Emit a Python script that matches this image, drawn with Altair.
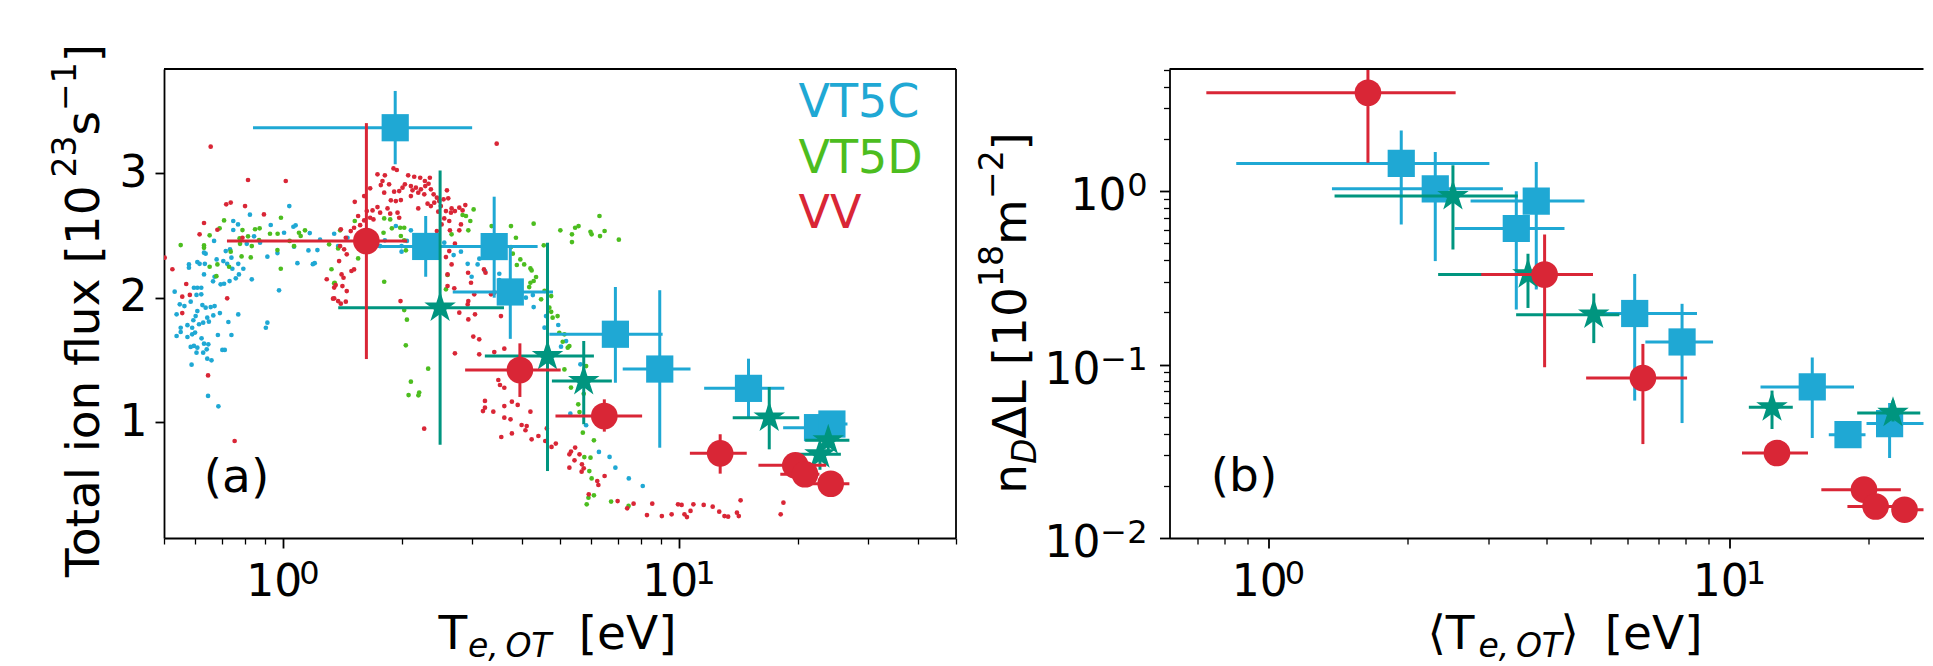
import math
import altair as alt
import pandas as pd

FONT = "DejaVu Sans"
BLUE = "#1fa8d4"
GREEN = "#4cbd1f"
TEAL = "#00957f"
RED = "#d92636"

# ---------------- Panel (a): time-resolved points (T_e,OT , total ion flux) ----------------
blue_T = [0.748, 0.769, 0.824, 0.748, 0.930, 1.036, 1.061, 1.075, 1.005, 1.167, 1.239, 1.345, 0.874, 0.809,
          0.844, 0.669, 1.065, 1.158, 0.967, 1.086, 1.201, 1.188, 0.912, 0.637, 0.716, 0.734, 0.740, 0.706,
          0.679, 0.722, 0.744, 0.770, 0.793, 0.773, 0.759, 0.732, 0.695, 0.665, 0.631, 0.634, 0.615, 0.578,
          0.578, 0.607, 0.631, 0.671, 0.833, 0.709, 0.532, 0.595, 0.607, 0.621, 0.604, 0.621, 0.584, 0.563,
          0.548, 0.625, 0.637, 0.656, 0.671, 0.607, 0.601, 0.593, 0.613, 0.643, 0.666, 0.692, 0.538, 0.573,
          0.589, 0.551, 0.649, 0.628, 0.727, 0.770, 0.976, 1.220, 0.912, 0.904,
          0.538, 0.573, 0.589, 0.599, 0.551, 0.622, 0.584, 0.595, 0.607, 0.604, 0.631, 0.647, 0.641, 0.628,
          0.684, 0.740, 0.702, 0.712, 0.643, 0.659, 0.587, 0.646, 0.686,
          1.453, 1.925, 2.101, 1.806, 1.99, 1.99, 2.053, 2.551, 2.694, 2.811, 3.128, 3.097, 2.923, 2.991,
          3.232, 3.513, 3.513, 1.757, 1.376,
          4.10, 4.29, 4.27, 4.61, 4.57, 4.95, 5.18, 5.03, 5.63, 5.31, 5.82, 6.27, 6.67, 6.90, 7.46, 8.09]
blue_F = [2.615, 2.588, 2.666, 2.543, 2.583, 2.735, 2.569, 2.580, 2.521, 2.518, 2.465, 2.513, 2.441, 2.432,
          2.492, 2.455, 2.409, 2.379, 2.358, 2.277, 2.277, 2.269, 2.329, 2.353, 2.374, 2.388, 2.321, 2.294,
          2.307, 2.272, 2.232, 2.272, 2.232, 2.187, 2.155, 2.133, 2.107, 2.131, 2.187, 2.272, 2.272, 2.267,
          2.240, 2.286, 2.361, 2.168, 2.147, 2.112, 2.048, 2.080, 2.080, 2.080, 2.022, 2.027, 1.968, 1.933,
          1.947, 1.941, 1.920, 1.925, 1.933, 1.893, 1.853, 1.819, 1.787, 1.840, 1.858, 1.877, 1.867, 1.780,
          1.759, 1.759, 1.808, 1.800, 1.805, 1.866, 2.059, 2.382, 1.800, 1.759,
          1.693, 1.685, 1.706, 1.720, 1.725, 1.674, 1.605, 1.613, 1.599, 1.559, 1.631, 1.626, 1.586, 1.559,
          1.701, 1.701, 1.581, 1.581, 1.511, 1.498, 1.463, 1.212, 1.129,
          2.481, 2.575, 2.540, 2.460, 2.414, 2.369, 2.455, 2.441, 2.342, 2.369, 2.313, 2.267, 2.272, 2.168,
          2.214, 2.192, 2.141, 2.414, 2.414,
          2.000, 1.925, 2.021, 1.853, 1.760, 1.781, 1.652, 1.607, 1.466, 1.070, 0.977, 0.763, 0.723, 0.637,
          0.551, 0.490]

green_T = [0.551, 0.631, 0.631, 0.652, 0.691, 0.709, 0.789, 0.776, 0.778, 0.815, 0.849, 0.872, 0.869, 0.833,
           0.926, 0.968, 0.987, 1.096, 1.135, 1.107, 1.038, 1.065, 0.967, 0.737, 0.785, 0.828, 0.682, 0.652,
           0.730, 0.678, 0.986, 1.306, 1.324, 1.345,
           1.516, 1.392, 1.799, 1.863, 1.881, 1.974, 2.021, 1.792, 1.982, 2.021, 2.041, 2.662, 2.838, 2.894,
           2.968, 3.026, 2.934, 3.36, 1.376, 1.546, 1.349, 1.799, 2.60, 2.576, 2.021, 2.053,
           2.040, 2.323, 2.101, 2.073, 2.205, 2.195,
           3.76, 4.29, 5.01, 5.36, 5.46, 5.57, 5.36, 5.97, 6.01, 6.29, 6.31, 6.48, 7.04, 3.87, 3.76, 3.80,
           4.55, 3.89, 3.97, 4.06, 4.21, 4.24, 4.35, 4.29, 4.21, 4.18, 4.57, 4.75, 4.48, 4.70, 4.75, 4.79,
           4.93, 4.98, 5.13, 5.08, 5.28, 5.23, 5.33, 5.56, 5.60, 5.82, 5.74, 5.71, 6.09, 5.76, 5.97, 5.93,
           6.01, 6.09, 5.90, 5.84, 6.73, 7.45, 5.13]
green_F = [2.422, 2.419, 2.400, 2.500, 2.556, 2.620, 2.542, 2.475, 2.432, 2.492, 2.549, 2.556, 2.462, 2.414,
           2.513, 2.513, 2.641, 2.521, 2.540, 2.495, 2.455, 2.414, 2.382, 2.369, 2.331, 2.323, 2.267, 2.248,
           2.248, 2.173, 2.232, 2.428, 2.228, 2.115,
           2.615, 2.540, 2.636, 2.628, 2.556, 2.561, 2.561, 2.521, 2.495, 2.460, 2.380, 2.508, 2.663, 2.655,
           2.615, 2.708, 2.540, 2.574, 2.395, 2.315, 2.120, 2.128, 2.182, 2.067, 1.901, 1.824,
           1.618, 1.431, 1.327, 1.219, 1.239, 1.217,
           2.574, 2.594, 2.540, 2.508, 2.561, 2.574, 2.446, 2.529, 2.508, 2.655, 2.494, 2.535, 2.465, 2.481,
           2.406, 2.353, 2.420, 2.262, 2.307, 2.267, 2.235, 2.219, 2.166, 2.134, 2.120, 2.085, 2.054, 2.013,
           1.987, 1.920, 1.887, 1.840, 1.853, 1.719, 1.706, 1.647, 1.612, 1.599, 1.279, 1.145, 1.083, 1.452,
           1.230, 0.918, 0.856, 0.722, 0.717, 0.610, 0.551, 0.415, 0.396, 0.343, 0.365, 0.330, 1.425]

red_T = [0.656, 0.815, 1.015, 0.718, 0.737, 0.801, 0.894, 0.631, 0.682, 0.615, 0.502, 0.525, 0.569, 0.556,
         0.581, 0.722, 0.556, 1.288, 1.336, 0.789, 1.345, 0.646, 0.754,
         3.46, 1.899, 1.936, 1.73, 1.806, 1.781, 1.764, 1.851, 2.068, 2.142, 2.218, 2.346, 2.279, 2.029,
         2.101, 2.163, 2.227, 2.284, 2.328, 2.36, 2.001, 1.963, 1.906, 1.799, 1.658, 2.121, 2.193, 2.271,
         2.101, 2.398, 2.444, 2.477, 2.591, 2.541, 2.611, 2.501, 2.576, 2.662, 2.714, 2.784, 2.838, 2.883,
         2.652, 2.551, 2.626, 2.463, 2.36, 2.315, 2.407, 2.193, 1.982, 1.925, 1.870, 1.834, 1.73, 1.757,
         1.681, 1.658, 1.626, 1.601, 1.516, 1.546, 1.601, 1.690, 1.944, 1.963, 1.863, 1.564, 1.510, 1.481,
         1.398, 1.439, 1.392, 1.425, 1.447, 1.384, 1.510, 1.487, 1.404, 1.420, 1.357, 1.411, 1.447, 1.345,
         1.376, 1.398, 1.439, 1.978, 2.444, 2.512, 2.636, 2.784, 2.811, 2.576, 2.626, 2.662, 2.60, 2.60,
         2.704, 2.930, 2.98, 3.037, 2.934, 2.923, 3.213, 3.243, 3.348, 3.412, 3.547, 2.784, 2.934, 3.050,
         2.714,
         2.270, 3.02, 3.126, 2.714, 3.126, 3.412, 3.617, 3.493, 3.527, 3.617, 3.232, 3.232, 3.195, 3.393,
         3.617, 3.617, 3.554,
         3.78, 3.91, 3.75, 3.78, 4.00, 4.09, 4.12, 4.21, 4.24, 4.41, 4.59, 4.63, 4.76, 4.88, 5.28, 5.33,
         5.46, 5.60, 5.44, 5.28, 5.68, 5.74, 5.67, 6.21, 6.25, 6.48, 5.91, 6.99, 7.39, 7.67,
         8.29, 8.55, 9.04, 9.57, 9.93, 10.14, 10.31, 10.68, 10.86, 10.46, 11.53, 12.15, 12.62, 13.01,
         13.29, 13.99, 14.14, 14.29, 18.04, 18.33]
red_F = [3.211, 2.944, 2.936, 2.749, 2.763, 2.735, 2.668, 2.599, 2.545, 2.508, 2.321, 2.228, 2.110, 2.008,
         2.022, 1.995, 1.877, 2.148, 1.992, 2.481, 2.081, 1.377, 0.851,
         3.235, 3.037, 3.024, 2.989, 2.981, 2.936, 2.903, 2.909, 2.981, 2.970, 2.962, 2.962, 2.936, 2.909,
         2.895, 2.882, 2.869, 2.895, 2.914, 2.869, 2.882, 2.855, 2.850, 2.842, 2.877, 2.861, 2.842, 2.829,
         2.815, 2.829, 2.802, 2.775, 2.861, 2.789, 2.797, 2.735, 2.695, 2.716, 2.695, 2.722, 2.700, 2.743,
         2.682, 2.636, 2.615, 2.690, 2.735, 2.754, 2.762, 2.716, 2.783, 2.775, 2.781, 2.716, 2.727, 2.682,
         2.700, 2.641, 2.695, 2.815, 2.769, 2.655, 2.620, 2.628, 2.682, 2.641, 2.674, 2.582, 2.561, 2.534,
         2.548, 2.481, 2.414, 2.388, 2.348, 2.294, 2.227, 2.214, 2.187, 2.160, 2.101, 2.093, 2.053, 1.995,
         1.973, 1.952, 1.968, 1.973, 2.534, 2.588, 2.540, 2.540, 2.588, 2.326, 2.374, 2.267, 2.187, 2.093,
         2.075, 2.200, 2.120, 2.027, 1.973, 1.946, 2.227, 2.200, 2.027, 2.040, 1.853, 1.880, 1.826, 1.867,
         2.433,
         0.950, 1.688, 1.666, 1.554, 1.546, 1.564, 1.591, 1.340, 1.300, 1.278, 1.172, 1.118, 1.091, 1.086,
         1.131, 1.038, 0.883,
         1.166, 1.140, 1.025, 0.912, 0.979, 0.937, 0.971, 1.086, 0.864, 0.891, 0.851, 0.952, 0.803, 0.830,
         0.744, 0.766, 0.798, 0.744, 0.696, 0.637, 0.664, 0.632, 0.605, 0.530, 0.498, 0.570, 0.423, 0.369,
         0.311, 0.348,
         0.257, 0.348, 0.249, 0.263, 0.343, 0.338, 0.263, 0.290, 0.343, 0.241, 0.338, 0.324, 0.284, 0.249,
         0.244, 0.276, 0.249, 0.375, 0.263, 0.356]

# ---------------- Panel (a): averaged points with error bars ----------------
a_c_T   = [1.918, 2.29, 3.41, 3.745, 6.90, 8.93, 14.96, 22.35, 24.3]
a_c_Tlo = [0.839, 1.73, 2.65, 2.68, 4.70, 7.20, 11.56, 18.3, 21.0]
a_c_Thi = [3.00, 3.05, 4.39, 4.80, 9.08, 10.68, 18.42, 25.5, 26.6]
a_c_F   = [3.363, 2.411, 2.41, 2.046, 1.707, 1.428, 1.273, 0.958, 0.987]
a_c_Flo = [3.07, 2.168, 2.0, 1.67, 1.318, 0.797, 1.043, 0.90, 0.93]
a_c_Fhi = [3.658, 2.655, 2.81, 2.42, 2.086, 2.06, 1.511, 1.02, 1.05]

a_d_T   = [2.49, 4.65, 5.74, 16.88, 23.79, 22.67]
a_d_Tlo = [1.377, 3.23, 4.77, 13.65, 20.8, 19.9]
a_d_Thi = [3.61, 6.09, 6.76, 20.1, 26.9, 25.6]
a_d_F   = [1.92, 1.532, 1.332, 1.038, 0.856, 0.744]
a_d_Flo = [0.82, 0.61, 0.985, 0.784, 0.77, 0.62]
a_d_Fhi = [3.02, 2.441, 1.653, 1.284, 0.93, 0.83]

a_v_T   = [1.622, 3.96, 6.47, 12.69, 19.64, 20.78, 24.13]
a_v_Tlo = [0.721, 2.88, 4.87, 10.64, 15.85, 18.0, 21.7]
a_v_Thi = [2.056, 5.02, 8.06, 14.81, 23.5, 22.6, 26.9]
a_v_F   = [2.455, 1.42, 1.051, 0.752, 0.656, 0.584, 0.508]
a_v_Flo = [1.508, 1.204, 0.926, 0.589, 0.60, 0.53, 0.46]
a_v_Fhi = [3.40, 1.634, 1.185, 0.905, 0.71, 0.64, 0.56]

# ---------------- Panel (b): n_D dL vs <T_e,OT> ----------------
b_c_T   = [1.938, 2.297, 3.804, 3.443, 6.22, 7.88, 15.1, 18.05, 22.22]
b_c_Tlo = [0.85, 1.371, 2.74, 2.53, 4.9, 6.56, 11.66, 16.4, 19.8]
b_c_Thi = [3.01, 3.22, 4.84, 4.38, 8.49, 9.2, 18.6, 19.7, 26.5]
b_c_N   = [1.445, 1.031, 0.876, 0.609, 0.197, 0.135, 0.0743, 0.0394, 0.0457]
b_c_Nlo = [0.642, 0.395, 0.271, 0.2077, 0.062, 0.046, 0.0377, 0.037, 0.0289]
b_c_Nhi = [2.24, 1.679, 1.47, 1.0, 0.333, 0.224, 0.110, 0.042, 0.060]

b_d_T   = [2.509, 3.65, 5.07, 12.35, 22.6]
b_d_Tlo = [1.389, 2.33, 3.44, 11.0, 18.9]
b_d_Thi = [3.47, 4.5, 5.76, 13.7, 25.9]
b_d_N   = [0.936, 0.331, 0.194, 0.0567, 0.0526]
b_d_Nlo = [0.461, 0.212, 0.133, 0.0425, 0.047]
b_d_Nhi = [1.41, 0.435, 0.257, 0.0708, 0.062]

b_v_T   = [1.641, 3.966, 6.48, 12.66, 19.55, 20.72, 23.94]
b_v_Tlo = [0.732, 2.89, 4.88, 10.63, 15.8, 18.0, 22.7]
b_v_Thi = [2.543, 5.05, 8.08, 14.78, 23.5, 23.0, 26.7]
b_v_N   = [3.69, 0.3306, 0.0837, 0.0309, 0.019, 0.0152, 0.01456]
b_v_Nlo = [1.457, 0.0965, 0.0348, 0.028, 0.0175, 0.014, 0.0135]
b_v_Nhi = [6.0, 0.562, 0.1315, 0.034, 0.0205, 0.0165, 0.0157]

series_names = ["VT5C", "VT5D", "VV"]

# tick labels (power-of-ten labels drawn as base + exponent)
xa_major = [1, 10]
xa_exp = ["0", "1"]
xb_major = [1, 10]
xb_exp = ["0", "1"]
yb_major = [1, 0.1, 0.01]
yb_exp = ["0", "−1", "−2"]

# ---------------- styling ----------------
WA, HA = 792, 469
WB, HB = 754, 469
GAP = 213.5
TICK_FS = 44
SUPT_FS = 32
TITLE_FS = 47
SUB_FS = 33
LEG_FS = 46

# matplotlib-like 5-point star marker (unit box)
pts = []
for k in range(10):
    r = 1.0 if k % 2 == 0 else 0.381966
    ang = math.radians(-90 + 36 * k)
    pts.append(f"{r * math.cos(ang):.4f},{r * math.sin(ang):.4f}")
STAR = "M" + " L".join(pts) + " Z"

ONE = alt.Data(values=[{"k": 0}])


def log_axis(values, major_test, orient):
    return alt.Axis(values=values, grid=False, title=None, domain=True, domainColor="black",
                    domainWidth=1.8, tickColor="black", labels=False, orient=orient,
                    tickSize={"condition": {"test": major_test, "value": 10}, "value": 6},
                    tickWidth={"condition": {"test": major_test, "value": 1.8}, "value": 1.3})


def txt(s, x, y, size, color="black", align="left", angle=None, style=None):
    kw = dict(text=s, fontSize=size, color=color, align=align, baseline="alphabetic", font=FONT)
    if angle is not None:
        kw["angle"] = angle
    if style:
        kw["fontStyle"] = style
    return alt.Chart(ONE).mark_text(**kw).encode(x=alt.value(x), y=alt.value(y))


def series_layers(df, color, shape, size, X, Y, vname):
    base = alt.Chart(df)
    h = base.mark_rule(color=color, strokeWidth=3, clip=True).encode(
        x=X("Tlo:Q"), x2="Thi:Q", y=Y(f"{vname}:Q"))
    v = base.mark_rule(color=color, strokeWidth=3, clip=True).encode(
        x=X("T:Q"), y=Y(f"{vname}lo:Q"), y2=f"{vname}hi:Q")
    p = base.mark_point(filled=True, shape=shape, size=size, color=color, opacity=1,
                        strokeWidth=0, clip=True).encode(x=X("T:Q"), y=Y(f"{vname}:Q"))
    return [h, v, p]


def xlabels(X, H, major, exps):
    d = pd.DataFrame({"v": major, "e": exps})
    base = alt.Chart(d).mark_text(text="10", fontSize=TICK_FS, align="left", baseline="alphabetic",
                                  dx=-37, font=FONT, color="black").encode(
        x=X("v:Q"), y=alt.value(H + 58))
    sup = alt.Chart(d).mark_text(fontSize=SUPT_FS, align="left", baseline="alphabetic",
                                 dx=16, font=FONT, color="black").encode(
        x=X("v:Q"), y=alt.value(H + 46), text="e:N")
    return [base, sup]


# ---------------- Panel (a) ----------------
xa_scale = alt.Scale(type="log", domain=[0.5, 50], nice=False)
ya_scale = alt.Scale(domain=[0.073, 3.834], nice=False, zero=False)
xa_axis = log_axis([0.5, 0.6, 0.7, 0.8, 0.9, 1, 2, 3, 4, 5, 6, 7, 8, 9, 10, 20, 30, 40, 50],
                   "datum.value == 1 || datum.value == 10", "bottom")
ya_axis = alt.Axis(values=[1, 2, 3], format="d", grid=False, title=None, domain=True,
                   domainColor="black", domainWidth=1.8, tickColor="black", tickSize=9,
                   tickWidth=1.8, labelColor="black", labelFont=FONT, labelFontSize=TICK_FS,
                   labelPadding=8)


def XA(f):
    return alt.X(f, scale=xa_scale, axis=xa_axis)


def YA(f):
    return alt.Y(f, scale=ya_scale, axis=ya_axis)


dots = pd.DataFrame({
    "T": blue_T + green_T + red_T,
    "F": blue_F + green_F + red_F,
    "g": ["VT5C"] * len(blue_T) + ["VT5D"] * len(green_T) + ["VV"] * len(red_T),
})
dots_layer = alt.Chart(dots).mark_circle(size=22, opacity=1, clip=True).encode(
    x=XA("T:Q"), y=YA("F:Q"),
    color=alt.Color("g:N", scale=alt.Scale(domain=series_names, range=[BLUE, GREEN, RED]), legend=None))


def mk(T, Tlo, Thi, V, Vlo, Vhi, vname):
    return pd.DataFrame({"T": T, "Tlo": Tlo, "Thi": Thi, vname: V, vname + "lo": Vlo, vname + "hi": Vhi})


a_c = mk(a_c_T, a_c_Tlo, a_c_Thi, a_c_F, a_c_Flo, a_c_Fhi, "F")
a_d = mk(a_d_T, a_d_Tlo, a_d_Thi, a_d_F, a_d_Flo, a_d_Fhi, "F")
a_v = mk(a_v_T, a_v_Tlo, a_v_Thi, a_v_F, a_v_Flo, a_v_Fhi, "F")

anchor = alt.Chart(ONE).mark_rule(color="white", strokeWidth=1).encode(
    x=alt.value(-154.5), x2=alt.value(-153.5), y=alt.value(-59.5))

border_a = [
    alt.Chart(ONE).mark_rule(color="black", strokeWidth=1.8).encode(
        x=alt.value(0), x2=alt.value(WA), y=alt.value(0)),
    alt.Chart(ONE).mark_rule(color="black", strokeWidth=1.8).encode(
        x=alt.value(WA), y=alt.value(0), y2=alt.value(HA)),
]

# y title of (a), rotated; pieces start at the bottom and run upwards
YTA_X, YTA_SUPX = -65.5, -88.5
texts_a = [
    txt("VT5C", 634.5, 47.5, LEG_FS, BLUE),
    txt("VT5D", 634.5, 104, LEG_FS, GREEN),
    txt("VV", 634.5, 159, LEG_FS, RED),
    txt("(a)", 72.5, 423, 47, align="center"),
    txt("T", 274.5, 580, TITLE_FS),
    txt("e,\u2009OT", 304, 588, SUB_FS, style="italic"),
    txt("[eV]", 512.5, 580, TITLE_FS, align="right"),
    txt("Total ion flux [10", YTA_X, 508, TITLE_FS, angle=270),
    txt("23", YTA_SUPX, 108.5, SUB_FS, angle=270),
    txt("s", YTA_X, 66.5, TITLE_FS, angle=270),
    txt("−1", YTA_SUPX, 42, SUB_FS, angle=270),
    txt("]", YTA_X, -6.7, TITLE_FS, angle=270),
]

panel_a = alt.layer(
    anchor, dots_layer,
    *series_layers(a_c, BLUE, "square", 740, XA, YA, "F"),
    *series_layers(a_d, TEAL, STAR, 1100, XA, YA, "F"),
    *series_layers(a_v, RED, "circle", 710, XA, YA, "F"),
    *border_a, *texts_a,
    *xlabels(XA, HA, xa_major, xa_exp),
).properties(width=WA, height=HA)

# ---------------- Panel (b) ----------------
xb_scale = alt.Scale(type="log", domain=[0.609, 26.32], nice=False)
yb_scale = alt.Scale(type="log", domain=[0.01, 5.06], nice=False)
xb_axis = log_axis([0.7, 0.8, 0.9, 1, 2, 3, 4, 5, 6, 7, 8, 9, 10, 20],
                   "datum.value == 1 || datum.value == 10", "bottom")
yb_axis = log_axis([0.01, 0.02, 0.03, 0.04, 0.05, 0.06, 0.07, 0.08, 0.09,
                    0.1, 0.2, 0.3, 0.4, 0.5, 0.6, 0.7, 0.8, 0.9, 1, 2, 3, 4, 5],
                   "datum.value == 1 || datum.value == 0.1 || datum.value == 0.01", "left")


def XB(f):
    return alt.X(f, scale=xb_scale, axis=xb_axis)


def YB(f):
    return alt.Y(f, scale=yb_scale, axis=yb_axis)


b_c = mk(b_c_T, b_c_Tlo, b_c_Thi, b_c_N, b_c_Nlo, b_c_Nhi, "N")
b_d = mk(b_d_T, b_d_Tlo, b_d_Thi, b_d_N, b_d_Nlo, b_d_Nhi, "N")
b_v = mk(b_v_T, b_v_Tlo, b_v_Thi, b_v_N, b_v_Nlo, b_v_Nhi, "N")

border_b = [
    alt.Chart(ONE).mark_rule(color="black", strokeWidth=1.8).encode(
        x=alt.value(0), x2=alt.value(WB), y=alt.value(0)),
]

# y tick labels of (b): exponent right-aligned, base "10" placed before it
ybd = pd.DataFrame({"v": yb_major, "e": yb_exp})
ylab_b = [
    alt.Chart(ybd).mark_text(fontSize=SUPT_FS, align="right", baseline="alphabetic", dy=5,
                             font=FONT, color="black").encode(
        x=alt.value(-22), y=YB("v:Q"), text="e:N"),
    alt.Chart(ybd.iloc[:1]).mark_text(text="10", fontSize=TICK_FS, align="right",
                                      baseline="alphabetic", dy=19, font=FONT, color="black").encode(
        x=alt.value(-43), y=YB("v:Q")),
    alt.Chart(ybd.iloc[1:]).mark_text(text="10", fontSize=TICK_FS, align="right",
                                      baseline="alphabetic", dy=19, font=FONT, color="black").encode(
        x=alt.value(-69), y=YB("v:Q")),
]

YTB_X, YTB_SUBX, YTB_SUPX = -143.5, -134, -166.5
texts_b = [
    txt("(b)", 74.5, 422, 47, align="center"),
    txt("⟨T", 258, 580, TITLE_FS),
    txt("e,\u2009OT", 309, 588, SUB_FS, style="italic"),
    txt("⟩", 391, 580, TITLE_FS),
    txt("[eV]", 533, 580, TITLE_FS, align="right"),
    txt("n", YTB_X, 424.8, TITLE_FS, angle=270),
    txt("D", YTB_SUBX, 395, SUB_FS, angle=270, style="italic"),
    txt("ΔL [10", YTB_X, 369.6, TITLE_FS, angle=270),
    txt("18", YTB_SUPX, 218, SUB_FS, angle=270),
    txt("m", YTB_X, 176, TITLE_FS, angle=270),
    txt("−2", YTB_SUPX, 130, SUB_FS, angle=270),
    txt("]", YTB_X, 81.5, TITLE_FS, angle=270),
]

panel_b = alt.layer(
    *series_layers(b_c, BLUE, "square", 740, XB, YB, "N"),
    *series_layers(b_d, TEAL, STAR, 1100, XB, YB, "N"),
    *series_layers(b_v, RED, "circle", 710, XB, YB, "N"),
    *border_b, *texts_b, *ylab_b,
    *xlabels(XB, HB, xb_major, xb_exp),
).properties(width=WB, height=HB)

chart = alt.hconcat(panel_a, panel_b, spacing=GAP, bounds="flush").properties(
    padding=0
).configure(font=FONT).configure_view(stroke="transparent")

chart.save("out.html", embed_options={"renderer": "svg", "actions": False})
